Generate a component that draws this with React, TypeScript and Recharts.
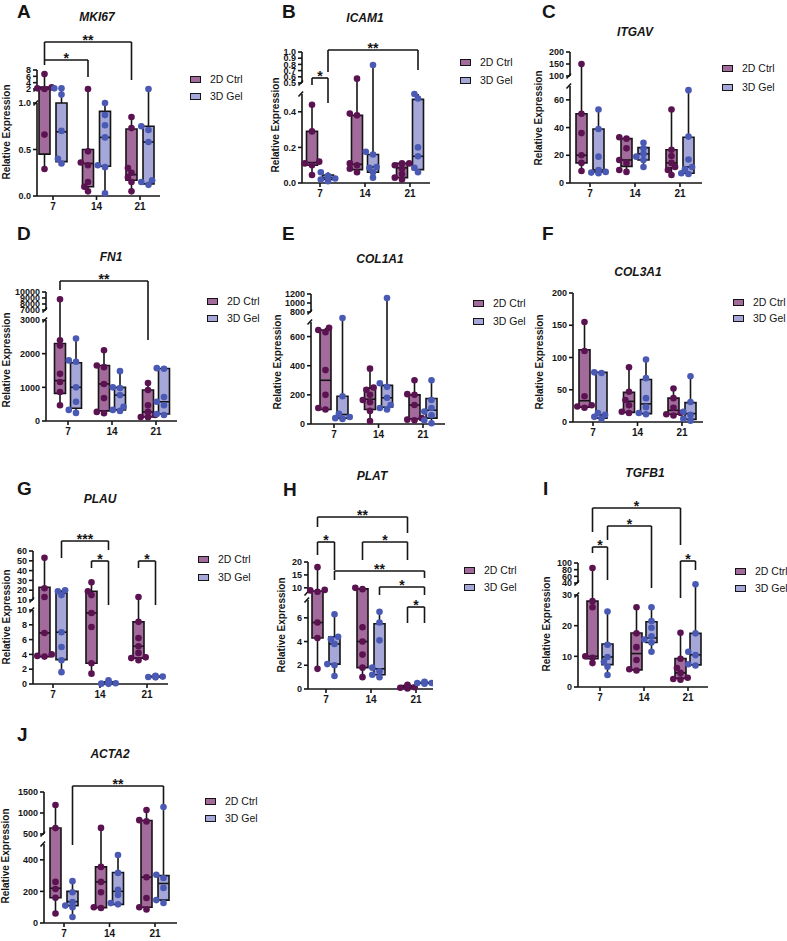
import React from "react";
import {
  ComposedChart,
  XAxis,
  YAxis,
  Scatter,
  ReferenceArea,
  ReferenceLine,
  ReferenceDot,
} from "recharts";

const days = ["7", "14", "21"];
const groupNames = ["2D Ctrl", "3D Gel"];

// MKI67
const mki67Ctrl = [[0.29, 0.66, 2.0, 2.2, 2.5, 6.7], [0.05, 0.1, 0.15, 0.33, 0.36, 0.48, 2.0], [0.05, 0.15, 0.2, 0.25, 0.3, 0.73, 0.85]];
const mki67CtrlBox = [[0.45, 2.0, 2.6], [0.1, 0.35, 0.5], [0.17, 0.23, 0.72]];
const mki67Gel = [[0.35, 0.4, 0.7, 1.6, 2.2, 2.2], [0.03, 0.31, 0.33, 0.63, 0.76, 0.87, 1.0], [0.12, 0.15, 0.17, 0.58, 0.71, 0.75, 2.0]];
const mki67GelBox = [[0.37, 0.69, 1.0], [0.32, 0.63, 0.91], [0.13, 0.58, 0.75]];
const mki67Ticks = ["0.0", "0.5", "1.0"];
const mki67TicksHigh = ["2", "4", "6", "8"];

// ICAM1
const icam1Ctrl = [[0.045, 0.1, 0.11, 0.12, 0.29, 0.44], [0.06, 0.08, 0.1, 0.11, 0.38, 0.39, 0.57], [0.02, 0.03, 0.05, 0.08, 0.1, 0.11, 0.11]];
const icam1CtrlBox = [[0.1, 0.115, 0.29], [0.075, 0.105, 0.38], [0.03, 0.085, 0.11]];
const icam1Gel = [[0.01, 0.02, 0.025, 0.03, 0.04, 0.06], [0.03, 0.06, 0.085, 0.09, 0.16, 0.175, 0.79], [0.06, 0.085, 0.15, 0.2, 0.475, 0.5]];
const icam1GelBox = [[0.02, 0.03, 0.045], [0.06, 0.09, 0.16], [0.075, 0.15, 0.47]];
const icam1Ticks = ["0.0", "0.2", "0.4"];
const icam1TicksHigh = ["0.5", "0.6", "0.7", "0.8", "0.9", "1.0"];

// ITGAV
const itgavCtrl = [[8.7, 14.5, 20, 36, 50, 150], [8, 9.4, 14.5, 16.6, 25, 32, 33], [5.8, 9.4, 11.5, 14.5, 19.5, 24, 53]];
const itgavCtrlBox = [[14.5, 20, 50], [12, 16.6, 32], [11, 14.5, 24]];
const itgavGel = [[7, 7.5, 8, 9.4, 19, 39, 53], [11.6, 16.6, 19, 21, 25, 29], [6.5, 7, 10, 11.6, 17, 33.5, 67]];
const itgavGelBox = [[8, 9.4, 39], [16.6, 21, 25.5], [7, 11.6, 33]];
const itgavTicks = ["0", "20", "40", "60"];
const itgavTicksHigh = ["100", "150", "200"];

// FN1
const fn1Ctrl = [[470, 860, 1160, 1400, 2240, 2400, 8800], [230, 270, 680, 1100, 1600, 1650, 2100], [110, 120, 180, 270, 470, 920, 1130]];
const fn1CtrlBox = [[820, 1200, 2300], [300, 1100, 1650], [120, 270, 920]];
const fn1Gel = [[240, 330, 570, 1000, 1760, 1800, 2450], [300, 330, 420, 770, 980, 1000, 1480], [180, 210, 470, 570, 710, 1550, 1570]];
const fn1GelBox = [[380, 1000, 1730], [330, 770, 1000], [210, 570, 1560]];
const fn1Ticks = ["0", "1000", "2000", "3000"];
const fn1TicksHigh = ["7000", "8000", "9000", "10000"];

// COL1A1
const col1a1Ctrl = [[100, 110, 200, 370, 630, 645, 660], [20, 90, 150, 165, 200, 235, 250, 380], [25, 30, 40, 130, 200, 205, 300]];
const col1a1CtrlBox = [[100, 300, 645], [100, 170, 245], [35, 130, 200]];
const col1a1Gel = [[35, 40, 48, 70, 190, 740], [100, 110, 130, 180, 255, 280, 1110], [5, 25, 60, 85, 110, 165, 300]];
const col1a1GelBox = [[40, 65, 190], [115, 180, 265], [40, 95, 175]];
const col1a1Ticks = ["0", "200", "400", "600"];
const col1a1TicksHigh = ["800", "1000", "1200"];

// COL3A1
const col3a1Ctrl = [[22, 24, 26, 40, 110, 155], [14, 16, 26, 34, 47, 85], [10, 12, 14, 22, 37, 52]];
const col3a1CtrlBox = [[23, 33, 112], [15, 32, 46], [12, 18, 37]];
const col3a1Gel = [[5, 8, 11, 14, 76, 77], [12, 14, 23, 37, 68, 97], [2, 5, 11, 16, 31, 71]];
const col3a1GelBox = [[6, 11, 77], [13, 28, 66], [4, 13, 30]];
const col3a1Ticks = ["0", "50", "100", "150", "200"];

// PLAU
const plauCtrl = [[3.7, 3.8, 4.0, 6.9, 13, 22, 53], [1.4, 2.8, 7.7, 9.6, 15, 19, 28], [3.2, 3.5, 3.6, 4.2, 5.1, 6.2, 8.4, 13]];
const plauCtrlBox = [[3.7, 6.9, 23], [2.8, 9.6, 19], [3.5, 5.1, 8.4]];
const plauGel = [[1.6, 3.2, 5.0, 7.0, 15, 19, 20], [0.02, 0.05, 0.1, 0.2, 0.3, 0.5], [0.9, 0.95, 1.0, 1.0, 1.05, 1.1]];
const plauGelBox = [[3.3, 7.0, 17], [0.05, 0.1, 0.3], [0.95, 1.0, 1.05]];
const plauTicks = ["0", "2", "4", "6", "8", "10"];
const plauTicksHigh = ["10", "20", "30", "40", "50", "60"];

// PLAT
const platCtrl = [[1.7, 4.3, 5.6, 8.5, 9.0, 9.2, 18], [1.0, 1.8, 2.9, 4.0, 5.2, 9.5, 10], [0.05, 0.1, 0.15, 0.2, 0.25, 0.35]];
const platCtrlBox = [[4.3, 5.6, 8.8], [1.8, 4.0, 9.6], [0.1, 0.18, 0.3]];
const platGel = [[1.1, 2.0, 2.1, 3.8, 4.2, 4.4, 6.3], [1.0, 1.2, 1.5, 1.8, 4.1, 5.6, 6.5], [0.45, 0.5, 0.5, 0.55, 0.6]];
const platGelBox = [[2.1, 3.8, 4.4], [1.2, 1.7, 5.5], [0.48, 0.5, 0.55]];
const platTicks = ["0", "2", "4", "6"];
const platTicksHigh = ["10", "15", "20"];

// TGFB1
const tgfb1Ctrl = [[7.8, 9.5, 10, 26, 28, 85], [5.4, 5.8, 8.8, 13, 17.5, 26], [2.4, 2.6, 3.0, 4.6, 6.2, 9.2, 17.7]];
const tgfb1CtrlBox = [[9.2, 10, 28], [5.6, 10.9, 17.6], [2.8, 4.6, 9.3]];
const tgfb1Gel = [[3.9, 6.6, 8.2, 9.8, 13.8, 24.6], [11.5, 14.5, 15.5, 16.5, 19.3, 21.5, 26], [7.0, 7.4, 10.4, 11.5, 17.5, 39]];
const tgfb1GelBox = [[7.3, 9.8, 14], [14.5, 16, 21.3], [7.2, 10.5, 17.5]];
const tgfb1Ticks = ["0", "10", "20", "30"];
const tgfb1TicksHigh = ["40", "60", "80", "100"];

// ACTA2
const acta2Ctrl = [[60, 160, 215, 260, 640, 1190], [95, 100, 195, 260, 355, 645], [85, 100, 158, 290, 800, 830, 1070]];
const acta2CtrlBox = [[160, 220, 643], [97, 260, 355], [100, 290, 820]];
const acta2Gel = [[38, 100, 110, 133, 195, 265], [118, 126, 177, 210, 317, 430], [127, 145, 222, 285, 305, 1140]];
const acta2GelBox = [[110, 135, 200], [118, 200, 320], [145, 250, 300]];
const acta2Ticks = ["0", "200", "400"];
const acta2TicksHigh = ["500", "1000", "1500"];

const INK = "#151515";
const BOX_FILL = ["#a26b9b", "#a4a7d8"];
const DOT_FILL = ["#5a1250", "#4a59b3"];
const FONT = '"Liberation Sans", Arial, Helvetica, sans-serif';

type Bracket = { a: [number, number]; b: [number, number]; y: number; l: number; r: number; s: string };
type Scale = { lo: [number, number]; loY: number; up?: [number, number]; upY?: [number, number] };
type PanelDef = {
  letter: string;
  letterAt: [number, number];
  title: string;
  titleAt: [number, number];
  yLabelAt: [number, number];
  legendAt: [number, number, number];
  axisX: number;
  axisEnd: number;
  base: number;
  groups: [number, number, number];
  off: number;
  scale: Scale;
  ticks: string[];
  ticksHigh?: string[];
  series: number[][][];
  boxes: number[][][];
  brackets: Bracket[];
};

const panels: PanelDef[] = [
  {
    letter: "A", letterAt: [17, 11], title: "MKI67", titleAt: [97, 17], yLabelAt: [6, 132], legendAt: [190, 79, 96],
    axisX: 37, axisEnd: 160, base: 196, groups: [53, 97, 140], off: 8.5,
    scale: { lo: [0, 1], loY: 103, up: [2, 8], upY: [89, 70] },
    ticks: mki67Ticks, ticksHigh: mki67TicksHigh,
    series: [mki67Ctrl, mki67Gel], boxes: [mki67CtrlBox, mki67GelBox],
    brackets: [
      { a: [0, 0], b: [2, 0], y: 42, l: 60, r: 80, s: "**" },
      { a: [0, 0], b: [1, 0], y: 60, l: 65, r: 77, s: "*" },
    ],
  },
  {
    letter: "B", letterAt: [282, 11], title: "ICAM1", titleAt: [365, 18], yLabelAt: [275, 125], legendAt: [460, 62, 80],
    axisX: 302, axisEnd: 430, base: 183, groups: [320, 365, 410], off: 8,
    scale: { lo: [0, 0.5], loY: 94, up: [0.5, 1], upY: [83, 52] },
    ticks: icam1Ticks, ticksHigh: icam1TicksHigh,
    series: [icam1Ctrl, icam1Gel], boxes: [icam1CtrlBox, icam1GelBox],
    brackets: [
      { a: [0, 1], b: [2, 1], y: 50, l: 72, r: 70, s: "**" },
      { a: [0, 0], b: [0, 1], y: 78, l: 85, r: 103, s: "*" },
    ],
  },
  {
    letter: "C", letterAt: [542, 11], title: "ITGAV", titleAt: [635, 32], yLabelAt: [538, 118], legendAt: [722, 68, 87],
    axisX: 570, axisEnd: 702, base: 183, groups: [590, 635, 680], off: 8.5,
    scale: { lo: [0, 70], loY: 86, up: [100, 200], upY: [76, 52] },
    ticks: itgavTicks, ticksHigh: itgavTicksHigh,
    series: [itgavCtrl, itgavGel], boxes: [itgavCtrlBox, itgavGelBox],
    brackets: [],
  },
  {
    letter: "D", letterAt: [17, 233], title: "FN1", titleAt: [111, 257], yLabelAt: [6, 360], legendAt: [207, 301, 318],
    axisX: 46, axisEnd: 177, base: 421, groups: [68, 112, 156], off: 8,
    scale: { lo: [0, 3000], loY: 320, up: [7000, 10000], upY: [310, 292] },
    ticks: fn1Ticks, ticksHigh: fn1TicksHigh,
    series: [fn1Ctrl, fn1Gel], boxes: [fn1CtrlBox, fn1GelBox],
    brackets: [{ a: [0, 0], b: [2, 0], y: 281, l: 290, r: 340, s: "**" }],
  },
  {
    letter: "E", letterAt: [282, 233], title: "COL1A1", titleAt: [380, 259], yLabelAt: [277, 362], legendAt: [473, 303, 321],
    axisX: 311, axisEnd: 445, base: 424, groups: [334, 379, 423], off: 8.5,
    scale: { lo: [0, 700], loY: 322, up: [800, 1200], upY: [312, 294] },
    ticks: col1a1Ticks, ticksHigh: col1a1TicksHigh,
    series: [col1a1Ctrl, col1a1Gel], boxes: [col1a1CtrlBox, col1a1GelBox],
    brackets: [],
  },
  {
    letter: "F", letterAt: [542, 233], title: "COL3A1", titleAt: [638, 272], yLabelAt: [539, 362], legendAt: [733, 302, 318],
    axisX: 573, axisEnd: 703, base: 422, groups: [593, 638, 682], off: 8.5,
    scale: { lo: [0, 200], loY: 293 },
    ticks: col3a1Ticks,
    series: [col3a1Ctrl, col3a1Gel], boxes: [col3a1CtrlBox, col3a1GelBox],
    brackets: [],
  },
  {
    letter: "G", letterAt: [17, 488], title: "PLAU", titleAt: [100, 499], yLabelAt: [6, 617], legendAt: [198, 559, 577],
    axisX: 33, axisEnd: 168, base: 684, groups: [53, 100, 147], off: 8.5,
    scale: { lo: [0, 10], loY: 610, up: [10, 60], upY: [600, 551] },
    ticks: plauTicks, ticksHigh: plauTicksHigh,
    series: [plauCtrl, plauGel], boxes: [plauCtrlBox, plauGelBox],
    brackets: [
      { a: [0, 1], b: [1, 1], y: 541, l: 558, r: 550, s: "***" },
      { a: [1, 0], b: [1, 1], y: 561, l: 568, r: 605, s: "*" },
      { a: [2, 0], b: [2, 1], y: 561, l: 568, r: 605, s: "*" },
    ],
  },
  {
    letter: "H", letterAt: [283, 489], title: "PLAT", titleAt: [372, 476], yLabelAt: [281, 625], legendAt: [464, 570, 587],
    axisX: 308, axisEnd: 433, base: 689, groups: [326, 371, 416], off: 8.5,
    scale: { lo: [0, 7.5], loY: 600, up: [8, 20], upY: [593, 562] },
    ticks: platTicks, ticksHigh: platTicksHigh,
    series: [platCtrl, platGel], boxes: [platCtrlBox, platGelBox],
    brackets: [
      { a: [0, 0], b: [2, 0], y: 517, l: 527, r: 533, s: "**" },
      { a: [0, 0], b: [0, 1], y: 542, l: 555, r: 570, s: "*" },
      { a: [1, 0], b: [2, 0], y: 542, l: 560, r: 560, s: "*" },
      { a: [0, 1], b: [2, 1], y: 571, l: 580, r: 578, s: "**" },
      { a: [1, 1], b: [2, 1], y: 587, l: 595, r: 595, s: "*" },
      { a: [2, 0], b: [2, 1], y: 607, l: 623, r: 623, s: "*" },
    ],
  },
  {
    letter: "I", letterAt: [543, 488], title: "TGFB1", titleAt: [645, 473], yLabelAt: [546, 624], legendAt: [735, 571, 588],
    axisX: 578, axisEnd: 708, base: 687, groups: [600, 644, 688], off: 7.5,
    scale: { lo: [0, 30], loY: 595, up: [40, 100], upY: [583, 563] },
    ticks: tgfb1Ticks, ticksHigh: tgfb1TicksHigh,
    series: [tgfb1Ctrl, tgfb1Gel], boxes: [tgfb1CtrlBox, tgfb1GelBox],
    brackets: [
      { a: [0, 0], b: [2, 0], y: 508, l: 532, r: 545, s: "*" },
      { a: [0, 1], b: [1, 1], y: 526, l: 540, r: 588, s: "*" },
      { a: [0, 0], b: [0, 1], y: 547, l: 553, r: 580, s: "*" },
      { a: [2, 0], b: [2, 1], y: 561, l: 598, r: 570, s: "*" },
    ],
  },
  {
    letter: "J", letterAt: [17, 734], title: "ACTA2", titleAt: [110, 754], yLabelAt: [5, 856], legendAt: [205, 801, 818],
    axisX: 44, axisEnd: 177, base: 923, groups: [64, 109, 155], off: 8.5,
    scale: { lo: [0, 500], loY: 844, up: [500, 1500], upY: [834, 792] },
    ticks: acta2Ticks, ticksHigh: acta2TicksHigh,
    series: [acta2Ctrl, acta2Gel], boxes: [acta2CtrlBox, acta2GelBox],
    brackets: [{ a: [0, 1], b: [2, 1], y: 786, l: 845, r: 805, s: "**" }],
  },
];

// simple beeswarm: nudge dots sideways (px) when they would sit on top of each other
function spread(ys: number[]): number[] {
  const placed: { dx: number; y: number }[] = [];
  const cands = [0, -3.6, 3.6, -7.2, 7.2];
  return ys.map((y) => {
    const dx = cands.find((c) => placed.every((q) => Math.hypot(q.dx - c, q.y - y) >= 5.2)) ?? 0;
    placed.push({ dx, y });
    return dx;
  });
}

const YW = 44;
const XH = 26;
const line = { stroke: INK, strokeWidth: 1.6 };
const yTickFont = { fontSize: 9, fontWeight: 700, fill: INK, fontFamily: FONT };
const xTickFont = { fontSize: 10, fontWeight: 700, fill: INK, fontFamily: FONT };

function Panel({ p }: { p: PanelDef }) {
  const sc = p.scale;
  const top = Math.min(sc.upY ? sc.upY[1] : sc.loY, ...p.brackets.map((b) => b.y)) - 24;
  const H = p.base - top;
  const step = (p.groups[2] - p.groups[0]) / 2;
  const xMin = (p.axisX - p.groups[0]) / step;
  const xMax = (p.axisEnd - p.groups[0]) / step;
  const hw = 5.5 / step;

  // broken y axis: values -> px above the baseline
  const tLo = (v: number) => ((p.base - sc.loY) * v) / sc.lo[1];
  const tUp = (v: number) => {
    if (!sc.up || !sc.upY) return tLo(v);
    const b = p.base - sc.upY[0];
    const e = p.base - sc.upY[1];
    return b + ((v - sc.up[0]) * (e - b)) / (sc.up[1] - sc.up[0]);
  };
  const t = (v: number) => {
    if (!sc.up || v <= sc.lo[1]) return tLo(v);
    if (v >= sc.up[0]) return tUp(v);
    const a = tLo(sc.lo[1]);
    const b = tUp(sc.up[0]);
    return a + ((v - sc.lo[1]) * (b - a)) / (sc.up[0] - sc.lo[1]);
  };

  const yTicks = [
    ...p.ticks.map((l) => ({ v: tLo(Number(l)), l })),
    ...(p.ticksHigh || []).map((l) => ({ v: tUp(Number(l)), l })),
  ];
  const xOf = (g: number, k: number) => g + ((k === 0 ? -1 : 1) * p.off) / step;

  const dots = p.series.map((ser, k) =>
    ser.flatMap((vals, g) => {
      const ys = vals.map(t);
      const dx = spread(ys);
      return ys.map((y, i) => ({ x: xOf(g, k) + dx[i] / step, y }));
    })
  );

  const marks: React.ReactNode[] = [];
  p.series.forEach((ser, k) =>
    ser.forEach((vals, g) => {
      const cx = xOf(g, k);
      const [q1, med, q3] = p.boxes[k][g];
      const lo = Math.min(...vals);
      const hi = Math.max(...vals);
      marks.push(
        <ReferenceLine key={`wl${k}${g}`} segment={[{ x: cx, y: t(lo) }, { x: cx, y: t(q1) }]} {...line} ifOverflow="visible" />,
        <ReferenceLine key={`wh${k}${g}`} segment={[{ x: cx, y: t(q3) }, { x: cx, y: t(hi) }]} {...line} ifOverflow="visible" />,
        <ReferenceArea key={`b${k}${g}`} x1={cx - hw} x2={cx + hw} y1={t(q1)} y2={t(q3)} fill={BOX_FILL[k]} fillOpacity={1} stroke={INK} strokeWidth={1.6} ifOverflow="visible" />,
        <ReferenceLine key={`m${k}${g}`} segment={[{ x: cx - hw, y: t(med) }, { x: cx + hw, y: t(med) }]} {...line} ifOverflow="visible" />
      );
    })
  );

  // y axis drawn in pieces so the break shows
  marks.push(
    <ReferenceLine key="axlo" segment={[{ x: xMin, y: 0 }, { x: xMin, y: tLo(sc.lo[1]) }]} {...line} ifOverflow="visible" />
  );
  if (sc.up) {
    const a = tLo(sc.lo[1]);
    const b = tUp(sc.up[0]);
    const sl = 3.5 / step;
    marks.push(
      <ReferenceLine key="axup" segment={[{ x: xMin, y: b }, { x: xMin, y: tUp(sc.up[1]) }]} {...line} ifOverflow="visible" />,
      <ReferenceLine key="sl1" segment={[{ x: xMin - sl, y: a - 2.5 }, { x: xMin + sl * 0.3, y: a + 2.5 }]} {...line} ifOverflow="visible" />,
      <ReferenceLine key="sl2" segment={[{ x: xMin - sl, y: b - 2.5 }, { x: xMin + sl * 0.3, y: b + 2.5 }]} {...line} ifOverflow="visible" />
    );
  }

  p.brackets.forEach((br, i) => {
    const xa = xOf(br.a[0], br.a[1]);
    const xb = xOf(br.b[0], br.b[1]);
    const ty = p.base - br.y;
    marks.push(
      <ReferenceLine key={`bb${i}`} segment={[{ x: xa, y: ty }, { x: xb, y: ty }]} {...line} ifOverflow="visible" />,
      <ReferenceLine key={`bl${i}`} segment={[{ x: xa, y: ty }, { x: xa, y: p.base - br.l }]} {...line} ifOverflow="visible" />,
      <ReferenceLine key={`br${i}`} segment={[{ x: xb, y: ty }, { x: xb, y: p.base - br.r }]} {...line} ifOverflow="visible" />,
      <ReferenceDot
        key={`bs${i}`}
        x={(xa + xb) / 2}
        y={ty}
        r={0}
        ifOverflow="visible"
        shape={(pp: any) => (
          <text x={pp.cx} y={pp.cy + 3} textAnchor="middle" fontSize={14} fontWeight={700} fill={INK} fontFamily={FONT}>
            {br.s}
          </text>
        )}
      />
    );
  });

  return (
    <>
      <div style={{ position: "absolute", left: p.letterAt[0], top: p.letterAt[1] - 9, fontSize: 19, fontWeight: 700, lineHeight: "19px" }}>
        {p.letter}
      </div>
      <div
        style={{
          position: "absolute",
          left: p.titleAt[0],
          top: p.titleAt[1],
          transform: "translate(-50%, -50%)",
          fontSize: 12,
          fontWeight: 700,
          fontStyle: "italic",
          whiteSpace: "nowrap",
        }}
      >
        {p.title}
      </div>
      <div
        style={{
          position: "absolute",
          left: p.yLabelAt[0],
          top: p.yLabelAt[1],
          transform: "translate(-50%, -50%) rotate(-90deg)",
          fontSize: 10,
          fontWeight: 700,
          whiteSpace: "nowrap",
        }}
      >
        Relative Expression
      </div>
      {groupNames.map((name, k) => (
        <React.Fragment key={name}>
          <div
            style={{
              position: "absolute",
              left: p.legendAt[0],
              top: p.legendAt[1 + k] - 3.5,
              width: 11,
              height: 7,
              boxSizing: "border-box",
              border: `1.6px solid ${INK}`,
              background: BOX_FILL[k],
            }}
          />
          <div style={{ position: "absolute", left: p.legendAt[0] + 20, top: p.legendAt[1 + k] - 7, fontSize: 10.5, lineHeight: "14px", whiteSpace: "nowrap", color: INK }}>
            {name}
          </div>
        </React.Fragment>
      ))}
      <div style={{ position: "absolute", left: p.axisX - YW, top }}>
        <ComposedChart width={YW + p.axisEnd - p.axisX} height={H + XH} margin={{ top: 0, right: 0, bottom: 0, left: 0 }}>
          <XAxis
            type="number"
            dataKey="x"
            domain={[xMin, xMax]}
            ticks={[0, 1, 2]}
            interval={0}
            height={XH}
            tickFormatter={(v: number) => days[Math.round(v)] ?? ""}
            axisLine={line}
            tickLine={line}
            tickSize={4}
            tickMargin={3}
            tick={xTickFont}
          />
          <YAxis
            type="number"
            dataKey="y"
            domain={[0, H]}
            ticks={yTicks.map((d) => d.v)}
            interval={0}
            width={YW}
            axisLine={false}
            tickLine={line}
            tickSize={4}
            tickMargin={2}
            tick={yTickFont}
            tickFormatter={(v: number) => {
              const hit = yTicks.find((d) => Math.abs(d.v - v) < 0.01);
              return hit ? hit.l : "";
            }}
          />
          {marks}
          {dots.map((pts, k) => (
            <Scatter
              key={`s${k}`}
              name={groupNames[k]}
              data={pts}
              fill={DOT_FILL[k]}
              isAnimationActive={false}
              shape={(pp: any) => <circle cx={pp.cx} cy={pp.cy} r={3.3} fill={DOT_FILL[k]} />}
            />
          ))}
        </ComposedChart>
      </div>
    </>
  );
}

export default function App() {
  return (
    <div
      style={{
        position: "absolute",
        left: 0,
        top: 0,
        width: 787,
        height: 941,
        overflow: "hidden",
        background: "#fff",
        fontFamily: FONT,
        color: INK,
      }}
    >
      {panels.map((p) => (
        <Panel key={p.letter} p={p} />
      ))}
    </div>
  );
}
